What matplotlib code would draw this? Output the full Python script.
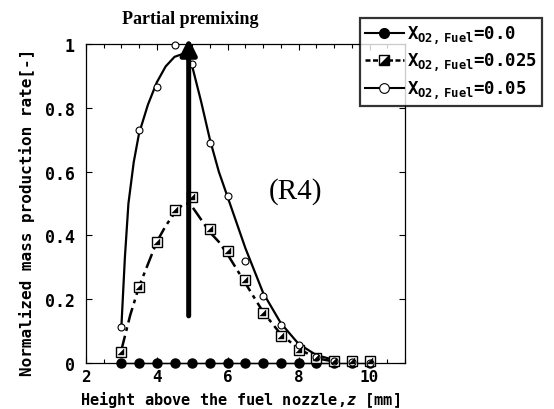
import numpy as np
import matplotlib
matplotlib.use("Agg")
import matplotlib.pyplot as plt
from matplotlib.path import Path
from matplotlib.ticker import MultipleLocator, FixedLocator

# measured points
z = [3.0, 3.5, 4.0, 4.5, 5.0, 5.5, 6.0, 6.5, 7.0, 7.5, 8.0, 8.5, 9.0, 9.5, 10.0]
rate_000 = [0.0] * 15
rate_025 = [0.035, 0.24, 0.38, 0.48, 0.52, 0.42, 0.35, 0.26, 0.157, 0.085, 0.04, 0.015, 0.008, 0.005, 0.005]
rate_050 = [0.113, 0.73, 0.865, 0.997, 0.937, 0.69, 0.525, 0.32, 0.21, 0.12, 0.057, 0.02, 0.005, 0.003, 0.0]

# smooth fitted curves as drawn in the figure
fit_z_050 = [3.0, 3.1, 3.2, 3.35, 3.5, 3.75, 4.0, 4.25, 4.5, 4.75, 5.0, 5.25, 5.5, 5.75, 6.0, 6.5, 7.0, 7.5, 8.0, 8.5, 9.0]
fit_050 = [0.11, 0.33, 0.5, 0.63, 0.72, 0.81, 0.88, 0.93, 0.96, 0.97, 0.93, 0.82, 0.70, 0.60, 0.52, 0.36, 0.22, 0.125, 0.06, 0.025, 0.01]
fit_z_025 = [3.0, 3.25, 3.5, 3.75, 4.0, 4.25, 4.5, 4.75, 4.9, 5.0, 5.25, 5.5, 5.75, 6.0, 6.5, 7.0, 7.5, 8.0, 8.5, 9.0]
fit_025 = [0.04, 0.15, 0.24, 0.31, 0.38, 0.43, 0.47, 0.5, 0.5, 0.49, 0.45, 0.41, 0.38, 0.34, 0.25, 0.16, 0.09, 0.045, 0.015, 0.005]

labels = ["0.0", "0.025", "0.05"]

mono = "DejaVu Sans Mono"
plt.rcParams["font.family"] = mono
plt.rcParams["font.weight"] = "bold"
plt.rcParams["axes.labelweight"] = "bold"
plt.rcParams["mathtext.fontset"] = "custom"
plt.rcParams["mathtext.rm"] = "DejaVu Sans Mono:bold"
plt.rcParams["mathtext.it"] = "DejaVu Sans Mono:italic:bold"

fig = plt.figure(figsize=(5.54, 4.10), dpi=100)
ax = fig.add_axes([0.155, 0.112, 0.576, 0.778])

# half filled square: white square + black lower-right triangle
tri = Path([(-1, -1), (1, -1), (1, 1), (-1, -1)], [Path.MOVETO, Path.LINETO, Path.LINETO, Path.CLOSEPOLY])

l0, = ax.plot(z, rate_000, "-", color="black", lw=1.0, marker="o", ms=6.5,
              mfc="black", mec="black", clip_on=False, zorder=3)
ax.plot(fit_z_025, fit_025, color="black", lw=1.8, ls=(0, (6, 2, 1.5, 2)), zorder=2)
l1a, = ax.plot(z, rate_025, ls="none", marker="s", ms=6.5, mfc="white", mec="black",
               mew=1.0, clip_on=False, zorder=4)
l1b, = ax.plot(z, rate_025, ls="none", marker=tri, ms=5, mfc="black", mec="black",
               mew=0.3, clip_on=False, zorder=5)
ax.plot(fit_z_050, fit_050, color="black", lw=1.6, zorder=2)
l2, = ax.plot(z, rate_050, ls="none", marker="o", ms=5, mfc="white", mec="black",
              mew=0.8, clip_on=False, zorder=4)

# legend proxies
h0, = ax.plot([], [], "-", color="black", lw=1.5, marker="o", ms=7, mfc="black")
h1a, = ax.plot([], [], color="black", lw=1.8, ls=(0, (2, 1)), marker="s", ms=7, mfc="white", mec="black")
h1b, = ax.plot([], [], ls="none", marker=tri, ms=5.5, mfc="black", mec="black")
h2, = ax.plot([], [], "-", color="black", lw=1.5, marker="o", ms=7, mfc="white", mec="black", mew=0.8)

ax.annotate("", xy=(4.9, 1.018), xytext=(4.9, 0.148),
            arrowprops=dict(arrowstyle="-|>", lw=3.6, color="black", mutation_scale=24,
                            shrinkA=0, shrinkB=0),
            annotation_clip=False, zorder=6)

ax.text(4.95, 1.08, "Partial premixing", ha="center", va="center",
        family="Liberation Serif", weight="bold", fontsize=13, clip_on=False)
ax.text(7.9, 0.54, "(R4)", ha="center", va="center",
        family="Liberation Serif", weight="normal", fontsize=21)

ax.set_xlim(2, 11)
ax.set_ylim(0, 1)
ax.xaxis.set_major_locator(FixedLocator([2, 4, 6, 8, 10]))
ax.xaxis.set_minor_locator(MultipleLocator(0.5))
ax.yaxis.set_major_locator(FixedLocator([0, 0.2, 0.4, 0.6, 0.8, 1.0]))
ax.set_yticklabels(["0", "0.2", "0.4", "0.6", "0.8", "1"])
ax.tick_params(which="both", direction="in", top=True, right=True, labelsize=12, width=0.8)
ax.tick_params(axis="x", pad=4, labelsize=11.5)
ax.tick_params(axis="y", pad=8)
ax.tick_params(which="major", length=4)
ax.tick_params(which="minor", length=3)
for s in ax.spines.values():
    s.set_linewidth(0.9)

ax.set_xlabel("Height above the fuel nozzle,$\\it{z}$ [mm]", fontsize=11)
ax.set_ylabel("Normalized mass production rate[-]", fontsize=11.5)
ax.xaxis.set_label_coords(0.483, -0.082)
ax.yaxis.set_label_coords(-0.16, 0.476)

leg_labels = ["X$_{\\rm O2,\\ Fuel}$=" + s for s in labels]
leg = fig.legend([h0, (h1a, h1b), h2], leg_labels, loc="upper left",
                 bbox_to_anchor=(0.65, 0.954), fontsize=12.5, frameon=True, fancybox=False,
                 edgecolor="black", handlelength=2.2, handletextpad=0.2,
                 labelspacing=0.3, borderpad=0.3, borderaxespad=0)
leg.get_frame().set_linewidth(1.6)

fig.savefig("out.png", dpi=100)
